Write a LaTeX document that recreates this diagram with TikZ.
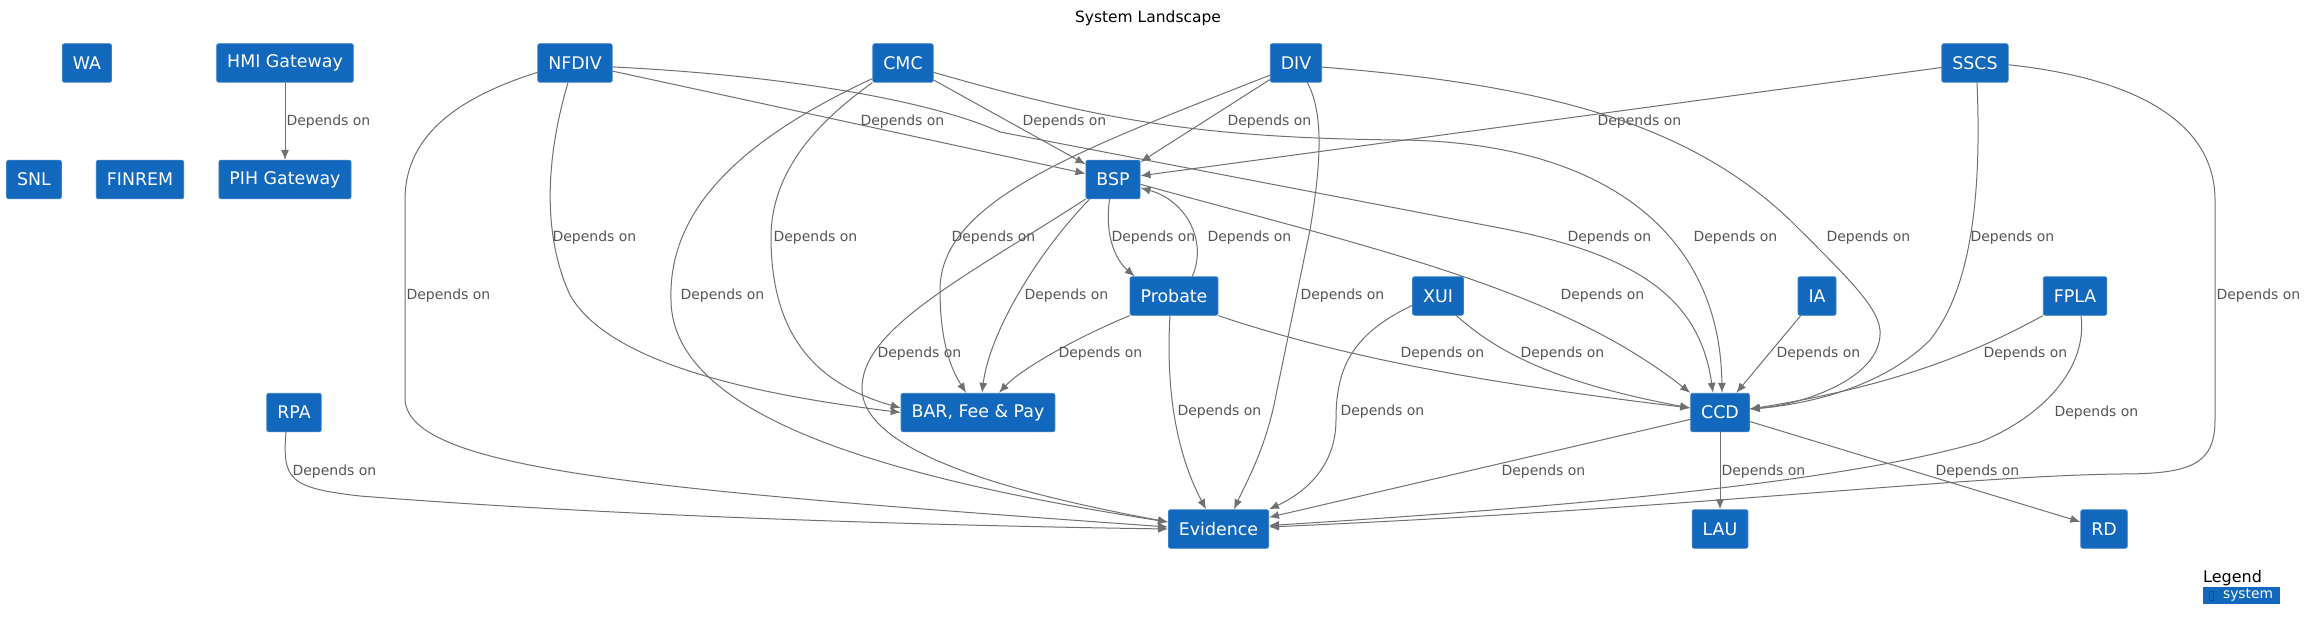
\documentclass[tikz,border=0pt]{standalone}
\usepackage{fontspec}
\setsansfont{DejaVu Sans}
\usetikzlibrary{arrows.meta}
\definecolor{sysFill}{HTML}{1168BD}
\definecolor{sysBorder}{HTML}{3A80C6}
\definecolor{sysIcon}{HTML}{0B4F96}
\definecolor{depLine}{HTML}{707070}
\definecolor{depText}{HTML}{555555}

\begin{document}
\begin{tikzpicture}[
  x=1pt, y=-1pt,
  font=\sffamily,
  system/.style={
    rectangle,
    rounded corners=2pt,
    fill=sysFill,
    draw=sysBorder,
    line width=0.8pt,
    text=white,
    font=\sffamily\fontsize{17.4}{20}\selectfont,
    minimum height=38.5pt,
    inner xsep=10.5pt,
    inner ysep=0pt
  },
  legendkey/.style={
    rectangle,
    fill=sysFill,
    text=white,
    font=\sffamily\fontsize{13.8}{15}\selectfont,
    minimum width=77pt,
    minimum height=16.5pt,
    inner sep=0pt
  },
  dep/.style={-{Latex[length=10pt, width=8pt]}, depLine, line width=1pt},
  lbl/.style={anchor=west, text=depText, font=\sffamily\fontsize{14}{16}\selectfont, inner sep=0pt}
]

  \fill[white] (0,0) rectangle (2308,623);
  \useasboundingbox (0,0) rectangle (2308,623);

  \node[font=\sffamily\fontsize{15.5}{18}\selectfont] (title) at (1148,18) {System Landscape};

  % systems
  \node[system] (WA) at (87,63) {WA};
  \node[system] (HMI) at (285,63) {HMI Gateway};
  \node[system] (NFDIV) at (575,63) {NFDIV};
  \node[system] (CMC) at (903,63) {CMC};
  \node[system] (DIV) at (1296,63) {DIV};
  \node[system] (SSCS) at (1975,63) {SSCS};
  \node[system] (SNL) at (34,179.5) {SNL};
  \node[system] (FINREM) at (140,179.5) {FINREM};
  \node[system] (PIH) at (285,179.5) {PIH Gateway};
  \node[system] (BSP) at (1113,179.5) {BSP};
  \node[system] (Probate) at (1174,296) {Probate};
  \node[system] (XUI) at (1438,296) {XUI};
  \node[system] (IA) at (1817,296) {IA};
  \node[system] (FPLA) at (2075,296) {FPLA};
  \node[system] (RPA) at (294,412.5) {RPA};
  \node[system] (BAR) at (978,412.5) {BAR, Fee \& Pay};
  \node[system] (CCD) at (1720,412.5) {CCD};
  \node[system] (Evidence) at (1218.5,529) {Evidence};
  \node[system] (LAU) at (1720,529) {LAU};
  \node[system] (RD) at (2104,529) {RD};

  % legend
  \node[anchor=west, inner sep=0pt, font=\sffamily\fontsize{16}{18}\selectfont] (legend) at (2203,578) {Legend};
  \node[legendkey] (key) at (2241.5,595.5) {\hspace{13pt}system};
  \draw[sysIcon, line width=0.6pt] ([xshift=6.5pt,yshift=4.5pt]key.west) rectangle ++(3.5,9);

  % dependencies
  \draw[dep] (HMI) -- (PIH) node[lbl] at (286,122) {Depends on};
  \draw[dep] (NFDIV) -- (BSP) node[lbl] at (860,122) {Depends on};
  \draw[dep] (CMC) -- (BSP) node[lbl] at (1022,122) {Depends on};
  \draw[dep] (DIV) -- (BSP) node[lbl] at (1227,122) {Depends on};
  \draw[dep] (SSCS) -- (BSP) node[lbl] at (1597,122) {Depends on};

  \draw[dep] (BSP.-100) .. controls (1104,240) and (1118,262) .. ([xshift=5pt]Probate.north west) node[lbl] at (1111,238) {Depends on};
  \draw[dep] (Probate.47) .. controls (1208,240) and (1185,200) .. (BSP.-17) node[lbl] at (1207,238) {Depends on};
  \draw[dep] (BSP.-140) .. controls (1040,250) and (990,330) .. ([xshift=4pt]BAR.north) node[lbl] at (1024,296) {Depends on};
  \draw[dep] (BSP.south west) .. controls (960,280) and (860,330) .. (862,390) .. controls (865,460) and (1050,500) .. ([yshift=7pt]Evidence.west) node[lbl] at (877,354) {Depends on};
  \draw[dep] (BSP.-10) .. controls (1380,250) and (1560,290) .. (CCD.north west) node[lbl] at (1560,296) {Depends on};

  \draw[dep] (Probate.south west) .. controls (1075,338) and (1020,370) .. ([xshift=21pt]BAR.north) node[lbl] at (1058,354) {Depends on};
  \draw[dep] ([xshift=-4pt]Probate.south) .. controls (1165,400) and (1180,460) .. ([xshift=-12.5pt]Evidence.north) node[lbl] at (1177,412) {Depends on};
  \draw[dep] (Probate.south east) .. controls (1350,360) and (1500,385) .. ([yshift=4.5pt]CCD.west) node[lbl] at (1400,354) {Depends on};

  \draw[dep] (NFDIV.-6) .. controls (780,75) and (930,100) .. (1000,132) -- (1500,228) .. controls (1640,255) and (1700,300) .. ([xshift=-7pt]CCD.north) node[lbl] at (1567,238) {Depends on};
  \draw[dep] ([xshift=-7pt]NFDIV.south) .. controls (548,150) and (540,230) .. (570,295) .. controls (610,365) and (760,395) .. (BAR.west) node[lbl] at (552,238) {Depends on};
  \draw[dep] (NFDIV.194) .. controls (450,100) and (405,140) .. (405,200) -- (405,400) .. controls (410,470) and (650,490) .. ([yshift=2pt]Evidence.west) node[lbl] at (406,296) {Depends on};

  \draw[dep] (CMC.-17) .. controls (1100,120) and (1200,138) .. (1400,140) .. controls (1600,142) and (1720,230) .. ([xshift=2pt]CCD.north) node[lbl] at (1693,238) {Depends on};
  \draw[dep] (CMC.south west) .. controls (820,120) and (770,170) .. (771,240) .. controls (772,340) and (820,385) .. ([yshift=4.5pt]BAR.west) node[lbl] at (773,238) {Depends on};
  \draw[dep] (CMC.207) .. controls (740,140) and (668,210) .. (671,300) .. controls (672,420) and (900,480) .. ([yshift=7pt]Evidence.west) node[lbl] at (680,296) {Depends on};

  \draw[dep] (DIV.-155) .. controls (1080,150) and (940,200) .. (940,290) .. controls (940,350) and (955,375) .. ([xshift=-12pt]BAR.north) node[lbl] at (951,238) {Depends on};
  \draw[dep] (DIV.-60) .. controls (1325,115) and (1320,170) .. (1310,230) -- (1275,400) .. controls (1265,450) and (1245,485) .. ([xshift=15.5pt]Evidence.north) node[lbl] at (1300,296) {Depends on};
  \draw[dep] (DIV.-9) .. controls (1550,85) and (1690,125) .. (1790,220) .. controls (1850,280) and (1882,310) .. (1880,335) .. controls (1878,380) and (1800,405) .. ([yshift=3.5pt]CCD.east) node[lbl] at (1826,238) {Depends on};

  \draw[dep] ([xshift=2pt]SSCS.south) .. controls (1982,200) and (1970,290) .. (1930,340) .. controls (1880,390) and (1800,405) .. ([yshift=3.5pt]CCD.east) node[lbl] at (1970,238) {Depends on};
  \draw[dep] (SSCS.-3) .. controls (2150,80) and (2215,130) .. (2215,200) -- (2215,420) .. controls (2215,465) and (2190,474) .. (2120,474) .. controls (1960,476) and (1700,508) .. ([yshift=2pt]Evidence.east) node[lbl] at (2216,296) {Depends on};

  \draw[dep] (XUI.-47) .. controls (1490,345) and (1540,380) .. ([yshift=4.5pt]CCD.west) node[lbl] at (1520,354) {Depends on};
  \draw[dep] (XUI.200) .. controls (1350,335) and (1336,370) .. (1336,420) .. controls (1336,470) and (1300,495) .. (Evidence.north east) node[lbl] at (1340,412) {Depends on};
  \draw[dep] (IA) -- (CCD) node[lbl] at (1776,354) {Depends on};
  \draw[dep] (FPLA.south west) .. controls (1980,350) and (1900,385) .. ([yshift=3.5pt]CCD.east) node[lbl] at (1983,354) {Depends on};
  \draw[dep] ([xshift=6pt]FPLA.south) .. controls (2088,370) and (2040,418) .. (1980,442) .. controls (1850,480) and (1600,505) .. ([yshift=3.5pt]Evidence.east) node[lbl] at (2054,413) {Depends on};

  \draw[dep] (CCD) -- (Evidence) node[lbl] at (1501,472) {Depends on};
  \draw[dep] (CCD) -- (LAU) node[lbl] at (1721,472) {Depends on};
  \draw[dep] (CCD) -- (RD) node[lbl] at (1935,472) {Depends on};
  \draw[dep] ([xshift=-8pt]RPA.south) .. controls (282,480) and (290,488) .. (360,496) .. controls (600,515) and (900,525) .. (Evidence.west) node[lbl] at (292,472) {Depends on};

\end{tikzpicture}
\end{document}
